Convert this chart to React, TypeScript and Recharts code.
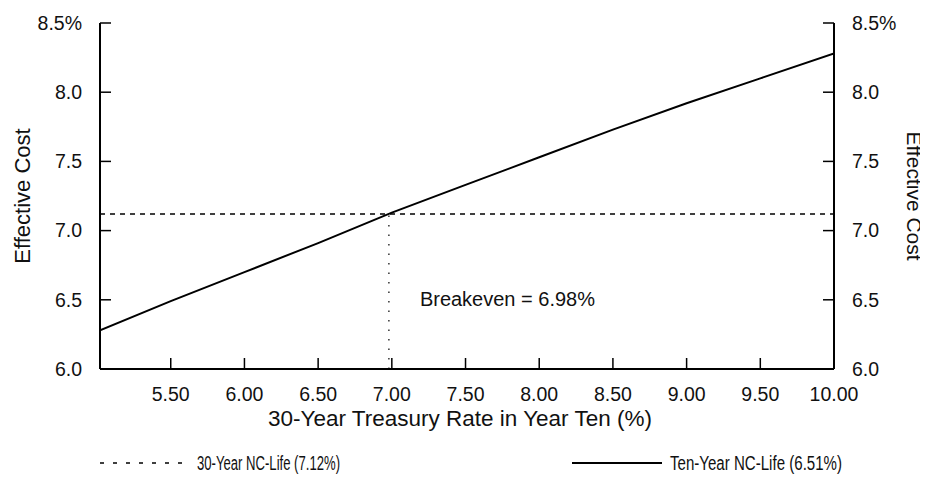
import { Legend, Line, LineChart, ReferenceLine, XAxis, YAxis } from "recharts";

// x = 30-year treasury rate in year ten (%)
const rates = [5.02, 5.5, 6.0, 6.5, 7.0, 7.5, 8.0, 8.5, 9.0, 9.5, 10.0];
// effective cost, ten-year NC-life bond
const tenYearCost = [6.28, 6.49, 6.7, 6.91, 7.13, 7.33, 7.53, 7.73, 7.92, 8.1, 8.28];
// effective cost, 30-year NC-life bond (flat)
const thirtyYearCost = [7.12, 7.12, 7.12, 7.12, 7.12, 7.12, 7.12, 7.12, 7.12, 7.12, 7.12];

const xTicks = [5.5, 6.0, 6.5, 7.0, 7.5, 8.0, 8.5, 9.0, 9.5, 10.0];
const yTicks = [6.0, 6.5, 7.0, 7.5, 8.0, 8.5];
const breakevenRate = 6.98;
const breakevenCost = 7.12;

const FONT = "'Liberation Sans', Arial, Helvetica, sans-serif";
const TICK_FS = 19.5;
const TICK_LEN = 11; // tick marks point into the plot
const GAP = 18; // axis line to label

const data = rates.map((r, i) => ({
  rate: r,
  ten: tenYearCost[i],
  thirty: thirtyYearCost[i],
}));

const fmtY = (v: number) => (v === 8.5 ? "8.5%" : v.toFixed(1));

function BottomTick({ x, y, payload }: any) {
  const ay = y - GAP;
  return (
    <g>
      <line x1={x} x2={x} y1={ay} y2={ay - TICK_LEN} stroke="#000" strokeWidth={1.5} />
      <text x={x} y={y} dy="0.71em" textAnchor="middle" fontFamily={FONT} fontSize={TICK_FS} fill="#111">
        {payload.value.toFixed(2)}
      </text>
    </g>
  );
}

function LeftTick({ x, y, payload }: any) {
  const ax = x + GAP;
  return (
    <g>
      <line x1={ax} x2={ax + TICK_LEN} y1={y} y2={y} stroke="#000" strokeWidth={1.5} />
      <text x={x} y={y} dy="0.35em" textAnchor="end" fontFamily={FONT} fontSize={TICK_FS} fill="#111">
        {fmtY(payload.value)}
      </text>
    </g>
  );
}

function RightTick({ x, y, payload }: any) {
  const ax = x - GAP;
  return (
    <g>
      <line x1={ax} x2={ax - TICK_LEN} y1={y} y2={y} stroke="#000" strokeWidth={1.5} />
      <text x={x} y={y} dy="0.35em" textAnchor="start" fontFamily={FONT} fontSize={TICK_FS} fill="#111">
        {fmtY(payload.value)}
      </text>
    </g>
  );
}

function ChartLegend() {
  return (
    <svg width={928} height={40} style={{ display: "block" }}>
      <line x1={100} x2={190} y1={20} y2={20} stroke="#000" strokeWidth={1.5} strokeDasharray="4 9" />
      <text
        x={197}
        y={27}
        fontFamily={FONT}
        fontSize={19.5}
        fill="#111"
        textLength={143}
        lengthAdjust="spacingAndGlyphs"
      >
        30-Year NC-Life (7.12%)
      </text>
      <line x1={572} x2={662} y1={20} y2={20} stroke="#000" strokeWidth={2} />
      <text
        x={670}
        y={27}
        fontFamily={FONT}
        fontSize={19.5}
        fill="#111"
        textLength={172}
        lengthAdjust="spacingAndGlyphs"
      >
        Ten-Year NC-Life (6.51%)
      </text>
    </svg>
  );
}

function RightTitle({ viewBox }: any) {
  const cx = 907;
  const cy = viewBox.y + viewBox.height / 2;
  return (
    <text
      x={cx}
      y={cy}
      transform={`rotate(90 ${cx} ${cy})`}
      textAnchor="middle"
      fontFamily={FONT}
      fontSize={21}
      fill="#111"
    >
      Effective Cost
    </text>
  );
}

export default function App() {
  return (
    <div style={{ width: 928, height: 483, margin: -8, background: "#fff" }}>
      <LineChart width={928} height={483} data={data} margin={{ top: 23, right: 0, bottom: 0, left: 0 }}>
        <XAxis
          dataKey="rate"
          type="number"
          domain={[5.02, 10]}
          ticks={xTicks}
          allowDataOverflow
          tick={<BottomTick />}
          tickSize={0}
          tickMargin={GAP}
          tickLine={false}
          height={74}
          axisLine={{ stroke: "#000", strokeWidth: 2 }}
          label={{
            content: ({ viewBox }: any) => (
              <text
                x={viewBox.x + viewBox.width / 2 - 7}
                y={viewBox.y + 57}
                textAnchor="middle"
                fontFamily={FONT}
                fontSize={22.5}
                fill="#111"
              >
                30-Year Treasury Rate in Year Ten (%)
              </text>
            ),
          }}
        />
        <XAxis
          xAxisId="top"
          dataKey="rate"
          type="number"
          orientation="top"
          domain={[5.02, 10]}
          allowDataOverflow
          height={0}
          tick={false}
          tickLine={false}
          axisLine={{ stroke: "#000", strokeWidth: 2 }}
        />
        <YAxis
          yAxisId="l"
          domain={[6, 8.5]}
          ticks={yTicks}
          allowDataOverflow
          width={100}
          tick={<LeftTick />}
          tickSize={0}
          tickMargin={GAP}
          tickLine={false}
          axisLine={{ stroke: "#000", strokeWidth: 2 }}
          label={{
            content: ({ viewBox }: any) => {
              const cx = viewBox.x + 30;
              const cy = viewBox.y + viewBox.height / 2;
              return (
                <text
                  x={cx}
                  y={cy}
                  transform={`rotate(-90 ${cx} ${cy})`}
                  textAnchor="middle"
                  fontFamily={FONT}
                  fontSize={22}
                  fill="#111"
                >
                  Effective Cost
                </text>
              );
            },
          }}
        />
        <YAxis
          yAxisId="r"
          orientation="right"
          domain={[6, 8.5]}
          ticks={yTicks}
          allowDataOverflow
          width={94}
          tick={<RightTick />}
          tickSize={0}
          tickMargin={GAP}
          tickLine={false}
          axisLine={{ stroke: "#000", strokeWidth: 2 }}
          label={{ content: (p: any) => <RightTitle {...p} /> }}
        />
        <Legend verticalAlign="bottom" height={40} content={() => <ChartLegend />} />
        <ReferenceLine
          yAxisId="l"
          segment={[
            { x: breakevenRate, y: 6 },
            { x: breakevenRate, y: breakevenCost },
          ]}
          stroke="#333"
          strokeWidth={1.5}
          strokeDasharray="1.5 8"
          label={{
            content: ({ viewBox }: any) => (
              <text
                x={viewBox.x + 31}
                y={viewBox.y + viewBox.height - 63}
                fontFamily={FONT}
                fontSize={20}
                fill="#111"
              >
                Breakeven = 6.98%
              </text>
            ),
          }}
        />
        <Line
          yAxisId="l"
          dataKey="thirty"
          stroke="#000"
          strokeWidth={1.5}
          strokeDasharray="5 5"
          dot={false}
          isAnimationActive={false}
          name="30-Year NC-Life (7.12%)"
        />
        <Line
          yAxisId="l"
          dataKey="ten"
          stroke="#000"
          strokeWidth={2}
          dot={false}
          isAnimationActive={false}
          name="Ten-Year NC-Life (6.51%)"
        />
      </LineChart>
    </div>
  );
}
